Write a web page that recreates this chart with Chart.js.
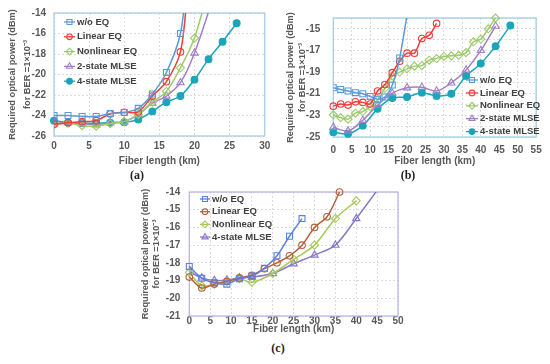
<!DOCTYPE html>
<html>
<head>
<meta charset="utf-8">
<script src="https://cdn.jsdelivr.net/npm/chart.js@4.4.1/dist/chart.umd.min.js"></script>
<style>
  body { margin: 0; background: #fff; width: 550px; height: 364px; overflow: hidden; position: relative; }
  canvas { position: absolute; }
  .cap { position: absolute; font: bold 12px "Liberation Serif", serif; color: #222; transform: translate(-50%, -50%); }
</style>
</head>
<body>
<canvas id="chartA" width="276" height="170" style="left:0;top:0"></canvas>
<canvas id="chartB" width="276" height="170" style="left:274px;top:0"></canvas>
<canvas id="chartC" width="280" height="160" style="left:130px;top:175px"></canvas>
<div class="cap" style="left:137px;top:175px">(a)</div>
<div class="cap" style="left:408px;top:175px">(b)</div>
<div class="cap" style="left:278px;top:348px">(c)</div>
<script>
// ---- (a) ----
const aX_wo = [0, 2, 4, 6, 8, 10, 12, 14, 16, 18, 19];
const aY_wo = [-24, -24, -24.1, -24.1, -23.8, -23.7, -23.3, -21.9, -19.8, -16, -10];
const aX_lin = [0, 2, 4, 6, 8, 10, 12, 14, 16, 18, 19];
const aY_lin = [-24.85, -24.7, -24.6, -24.5, -23.85, -23.7, -23.65, -22.1, -20.7, -17.8, -12];
const aX_nl = [0, 2, 4, 6, 8, 10, 12, 14, 16, 18, 20, 22];
const aY_nl = [-24.9, -24.75, -25, -25.05, -24.8, -24.6, -23.9, -22.7, -21.65, -19.35, -16.45, -11.6];
const aX_m2 = [0, 2, 4, 6, 8, 10, 12, 14, 16, 18, 20, 23];
const aY_m2 = [-24.8, -24.7, -24.8, -24.9, -24.7, -24.6, -23.9, -22.8, -22.1, -20.8, -17.9, -11.8];
const aX_m4 = [0, 2, 4, 6, 8, 10, 12, 14, 16, 18, 20, 22, 24, 26];
const aY_m4 = [-24.5, -24.7, -24.75, -24.75, -24.7, -24.65, -24.4, -23.6, -22.7, -22.1, -20.5, -18.5, -16.8, -15];

// ---- (b) ----
const bX_wo = [0, 2, 4, 6, 8, 10, 12, 14, 16, 18, 22];
const bY_wo = [-20.45, -20.6, -20.75, -20.9, -21, -21.25, -21.5, -21.3, -20.2, -17.7, -9.5];
const bX_lin = [0, 2, 4, 6, 8, 10, 12, 14, 16, 18, 20, 22, 24, 26, 28];
const bY_lin = [-22.15, -21.95, -22.05, -21.75, -21.8, -21.95, -20.75, -20.15, -19.05, -18, -17.25, -17.25, -15.9, -15.6, -14.5];
const bX_nl = [0, 2, 4, 6, 8, 10, 12, 14, 16, 18, 20, 22, 24, 26, 28, 30, 32, 34, 36, 38, 40, 42, 44];
const bY_nl = [-22.95, -23.2, -23.35, -22.8, -22.65, -22.2, -21.6, -20.5, -19.35, -19, -18.7, -18.45, -18.4, -17.9, -17.75, -17.55, -17.5, -17.45, -17.2, -16.2, -15.95, -15, -14];
const bX_m2 = [0, 4, 8, 12, 16, 20, 24, 28, 32, 36, 40, 44];
const bY_m2 = [-24.1, -24.45, -23.45, -22.05, -20.95, -20.45, -20.4, -20.75, -20, -18.8, -17, -14.75];
const bX_m4 = [0, 4, 8, 12, 16, 20, 24, 28, 32, 36, 40, 44, 48];
const bY_m4 = [-24.55, -24.7, -23.95, -22.4, -21.4, -21.3, -20.9, -21.2, -21, -19.35, -18.2, -16.6, -14.7];

// ---- (c) ----
const cX_wo = [0, 3, 6, 9, 12, 15, 18, 21, 24, 27];
const cY_wo = [-18.2, -18.87, -19.12, -19.2, -18.9, -18.75, -18.3, -17.6, -16.5, -15.5];
const cX_lin = [0, 3, 6, 9, 12, 15, 18, 21, 24, 27, 30, 33, 36];
const cY_lin = [-18.8, -19.42, -19.2, -19.05, -18.85, -18.7, -18.33, -18, -17.6, -17, -16, -15.4, -14];
const cX_nl = [0, 3, 6, 9, 12, 15, 20, 25, 30, 35, 40];
const cY_nl = [-18.55, -19.3, -19.2, -19.05, -18.9, -19.1, -18.6, -17.8, -17, -15.5, -14.5];
const cX_m4 = [0, 3, 6, 9, 12, 15, 20, 25, 30, 35, 40, 48];
const cY_m4 = [-18.5, -18.85, -19, -18.97, -18.84, -18.8, -18.6, -18.05, -17.56, -17, -15.5, -12.95];

const xTitle = 'Fiber length (km)';
const yTitle = ['Required optical power (dBm)', 'for BER =1×10⁻³'];

const FONT = "'Liberation Sans', Arial, sans-serif";
const TXT = '#595959';
const GRID = '#dcdcdc';

// frame round the plot area + legend drawn inside it
const frameAndLegend = {
  id: 'frameAndLegend',
  beforeDatasetsDraw(chart, args, opts) {
    const a = chart.chartArea, ctx = chart.ctx;
    ctx.save();
    ctx.strokeStyle = opts.frame;
    ctx.lineWidth = 1.3;
    ctx.strokeRect(a.left, a.top, a.right - a.left, a.bottom - a.top);
    ctx.restore();
  },
  afterDatasetsDraw(chart, args, opts) {
    const ctx = chart.ctx;
    ctx.save();
    ctx.font = opts.font;
    ctx.textBaseline = 'middle';
    ctx.textAlign = 'left';
    chart.data.datasets.forEach((ds, i) => {
      const y = opts.y + i * opts.dy;
      ctx.strokeStyle = ds.borderColor;
      ctx.lineWidth = 1.3;
      ctx.beginPath();
      ctx.moveTo(opts.x, y);
      ctx.lineTo(opts.x + opts.len, y);
      ctx.stroke();
      ctx.fillStyle = ds.pointBackgroundColor;
      ctx.lineWidth = 1.1;
      Chart.helpers.drawPoint(ctx, { pointStyle: ds.pointStyle, radius: ds.pointRadius * 0.85, borderWidth: 1.1, rotation: 0 }, opts.x + opts.len / 2, y);
      ctx.fillStyle = opts.color;
      ctx.fillText(ds.label, opts.x + opts.len + 2, y);
    });
    ctx.restore();
  }
};

function pts(xs, ys) {
  return xs.map((x, i) => ({ x: x, y: ys[i] }));
}

const RAD = { rect: 4.2, circle: 3.3, rectRot: 4, triangle: 4.2 };

function series(label, xs, ys, color, style, filled, clip) {
  return {
    label: label,
    data: pts(xs, ys),
    borderColor: color,
    pointBorderColor: color,
    pointBackgroundColor: filled ? color : 'rgba(255,255,255,0)',
    pointStyle: style,
    pointRadius: filled ? 3.4 : RAD[style],
    pointBorderWidth: 1.1,
    borderWidth: 1.5,
    tension: 0.3,
    clip: clip
  };
}

function axes(o) {
  const tickFont = { family: FONT, size: 10, weight: 'bold', lineHeight: 1 };
  return {
    x: {
      type: 'linear', min: o.xMin, max: o.xMax,
      ticks: { stepSize: o.xStep, autoSkip: false, maxRotation: 0, padding: o.xPad, color: TXT, font: tickFont },
      grid: { color: GRID, drawTicks: false },
      border: { display: false, dash: [2, 2] },
      title: { display: true, text: xTitle, color: TXT, font: { family: FONT, size: 10, weight: 'bold', lineHeight: o.xTitleLH }, padding: { top: 0, bottom: o.xTitlePad } },
      afterFit: s => { s.height = o.xH; }
    },
    y: {
      min: o.yMin, max: o.yMax,
      ticks: { stepSize: o.yStep, autoSkip: false, padding: o.yPad, color: TXT, font: tickFont,
        callback: o.yLabel || (v => v) },
      grid: { color: GRID, drawTicks: false },
      border: { display: false, dash: [2, 2] },
      title: { display: true, text: yTitle, color: TXT, font: { family: FONT, size: 9.2, weight: 'bold', lineHeight: o.yTitleLH }, padding: { top: o.yTitlePad, bottom: 0 } },
      afterFit: s => { s.width = o.yW; }
    }
  };
}

function build(id, datasets, o, legend) {
  return new Chart(document.getElementById(id), {
    type: 'line',
    data: { datasets: datasets },
    options: {
      responsive: false,
      animation: false,
      layout: { padding: o.pad },
      plugins: {
        legend: { display: false },
        tooltip: { enabled: false },
        frameAndLegend: legend
      },
      scales: axes(o)
    },
    plugins: [frameAndLegend]
  });
}

// colours
const BLUE = '#5b9bd5', RED = '#f03c3c', GREEN = '#9dca6b', PURPLE = '#a27ec6', CYAN = '#1aa6b9';
const LEGEND_FONT = "bold 9.5px " + FONT;

build('chartA', [
  series('w/o EQ', aX_wo, aY_wo, BLUE, 'rect', false, 0),
  series('Linear EQ', aX_lin, aY_lin, RED, 'circle', false, 0),
  series('Nonlinear EQ', aX_nl, aY_nl, GREEN, 'rectRot', false, 0),
  series('2-state MLSE', aX_m2, aY_m2, PURPLE, 'triangle', false, 0),
  series('4-state MLSE', aX_m4, aY_m4, CYAN, 'circle', true, 6)
], {
  pad: { left: 4, top: 12, right: 10, bottom: 0 },
  xMin: 0, xMax: 30, xStep: 5, xPad: 5.7, xH: 34, xTitlePad: 3, xTitleLH: 1.2,
  yMin: -26, yMax: -14, yStep: 2, yPad: 8, yW: 50, yTitlePad: 0.6, yTitleLH: 1.674
}, { frame: '#a9cbe8', x: 64, y: 22, dy: 14.8, len: 11, font: LEGEND_FONT, color: '#404040' });

build('chartB', [
  series('w/o EQ', bX_wo, bY_wo, BLUE, 'rect', false, 0),
  series('Linear EQ', bX_lin, bY_lin, RED, 'circle', false, 6),
  series('Nonlinear EQ', bX_nl, bY_nl, GREEN, 'rectRot', false, 6),
  series('2-state MLSE', bX_m2, bY_m2, PURPLE, 'triangle', false, 6),
  series('4-state MLSE', bX_m4, bY_m4, CYAN, 'circle', true, 6)
], {
  pad: { left: 8, top: 12, right: 13, bottom: 0 },
  xMin: 0, xMax: 55, xStep: 5, xPad: 8.3, xH: 33, xTitlePad: 3, xTitleLH: 1.2,
  yMin: -25, yMax: -14, yStep: 1, yPad: 13, yW: 51.3, yTitlePad: 2.5, yTitleLH: 1.337,
  yLabel: v => (Math.abs(v) % 2 === 1 ? v : '')
}, { frame: '#9fd0e0', x: 192, y: 80, dy: 12.9, len: 12, font: LEGEND_FONT, color: '#404040' });

build('chartC', [
  series('w/o EQ', cX_wo, cY_wo, '#5f7fe0', 'rect', false, 6),
  series('Linear EQ', cX_lin, cY_lin, '#b5603c', 'circle', false, 6),
  series('Nonlinear EQ', cX_nl, cY_nl, '#a7c95a', 'rectRot', false, 6),
  series('4-state MLSE', cX_m4, cY_m4, '#8878c8', 'triangle', false, 0)
], {
  pad: { left: 8, top: 17, right: 12, bottom: 0 },
  xMin: 0, xMax: 50, xStep: 5, xPad: 0, xH: 19, xTitlePad: 1, xTitleLH: 1,
  yMin: -21, yMax: -14, yStep: 1, yPad: 9, yW: 51.3, yTitlePad: 2.5, yTitleLH: 1.14
}, { frame: '#b9b5e6', x: 70, y: 24, dy: 12.7, len: 10, font: LEGEND_FONT, color: '#404040' });
</script>
</body>
</html>
